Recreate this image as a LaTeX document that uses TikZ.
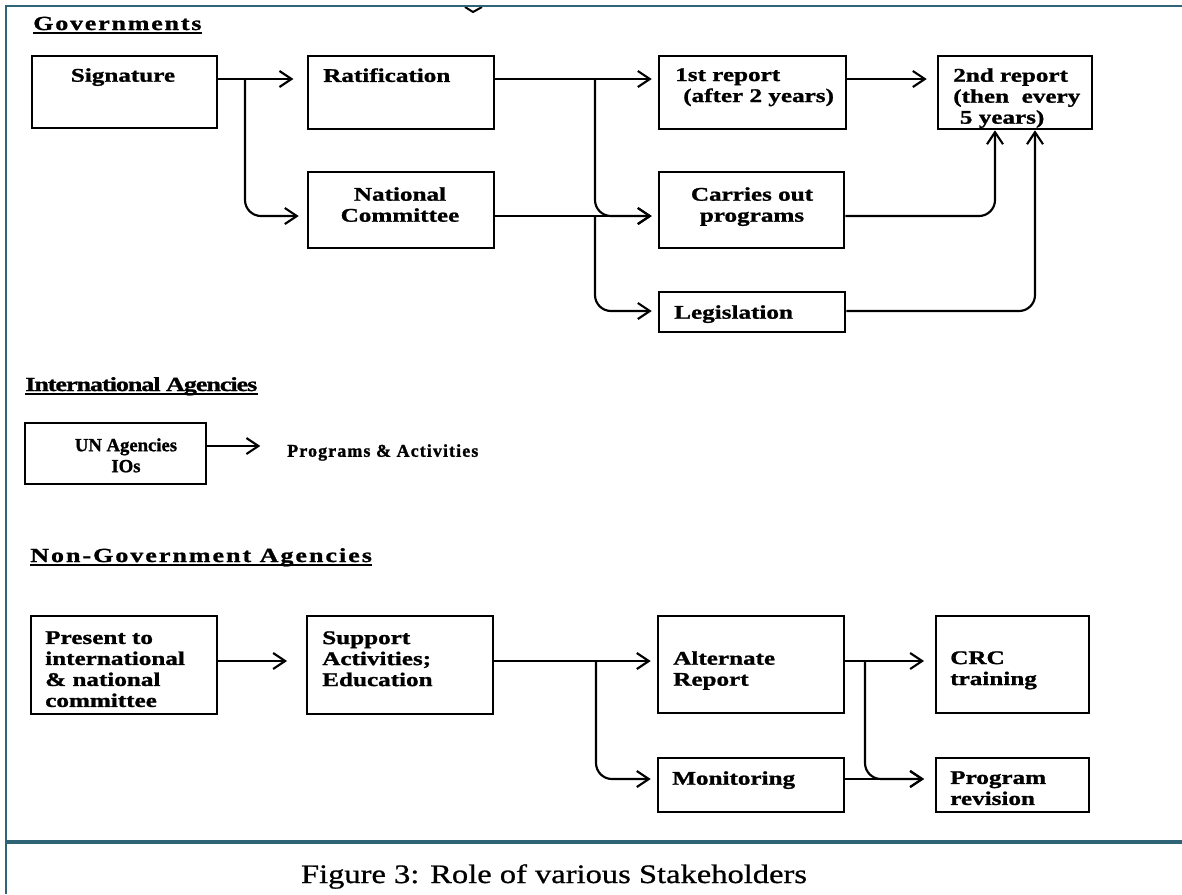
\documentclass[tikz,border=0pt]{standalone}
\usepackage{fontspec}
\setmainfont{Liberation Serif}
\newfontfamily\scanfont[FakeStretch=1.3,FakeBold=1.2]{Liberation Serif}
\newfontfamily\plainfont[FakeBold=1.2]{Liberation Serif}
\newfontfamily\capfont[FakeStretch=1.22,FakeBold=0.8]{Liberation Serif}
\usetikzlibrary{arrows.meta,positioning}
\definecolor{frameteal}{HTML}{2E6476}

\tikzset{
	box/.style={draw,line width=1.9pt,inner sep=0pt,minimum width=139.5pt},
	txt/.style={inner sep=0pt,align=left,font=\scanfont\bfseries\fontsize{14.5}{15.75}\selectfont},
	plaintxt/.style={inner sep=0pt,align=center,font=\plainfont\bfseries\fontsize{14}{15.75}\selectfont},
	head/.style={txt,anchor=base west},
	link/.style={->,line width=1.6pt,shorten >=4.5pt},
}

\begin{document}
\begin{tikzpicture}[x=0.75pt,y=-0.75pt,>={Straight Barb[length=9pt,width=12pt]}]
			\useasboundingbox (0,0) rectangle (1182,894);
			% frame
			\draw[line width=1.5pt] (465,7) -- (473,12) -- (482,7);
			\draw[frameteal,line width=1.6pt] (6,894) -- (6,6) -- (1182,6);
			\draw[frameteal,line width=2.6pt] (5,842) -- (1182,842);
			
			% levels of the connectors
			\coordinate (g1) at (0,79);
			\coordinate (g2) at (0,216);
			\coordinate (g3) at (0,311);
			\coordinate (i1) at (0,446);
			\coordinate (n1) at (0,661);
			\coordinate (n2) at (0,779);
			\coordinate (ja) at (245,0);
			\coordinate (jb) at (595,0);
			\coordinate (jc) at (995,0);
			\coordinate (jd) at (1035,0);
			\coordinate (je) at (596,0);
			\coordinate (jf) at (865,0);
			
			% Governments
			\node[head,font=\scanfont\bfseries\fontsize{15}{15.75}\selectfont\addfontfeature{LetterSpace=9}] (gov) at (33,30) {Governments};
			\node[box,minimum width=138.75pt,minimum height=54pt] (sig) at (124.5,92) {};
			\node[box,minimum height=54.75pt] (rat) at (401,92.5) {};
			\node[box,minimum height=57pt] (nat) at (401,210) {};
			\node[box,minimum width=140.25pt,minimum height=54.75pt] (rep1) at (752.5,92.5) {};
			\node[box,minimum width=115.5pt,minimum height=54.75pt] (rep2) at (1015,92.5) {};
			\node[box,minimum width=138.75pt,minimum height=57pt] (cp) at (751.5,210) {};
			\node[box,minimum height=30pt] (leg) at (752,312) {};
			\node[txt,anchor=north] (sigt) at (123,68) {Signature};
			\node[txt,anchor=north west] (ratt) at (323,68) {Ratification};
			\node[txt,anchor=north,align=center] (natt) at (400,187) {National\\Committee};
			\node[txt,anchor=north west] (rep1t) at (675,68) {1st report\\\hspace*{6pt}(after 2 years)};
			\node[txt,anchor=north west] (rep2t) at (953,68) {2nd report\\(then\ \ every\\\hspace*{5pt}5 years)};
			\node[txt,anchor=north,align=center] (cpt) at (752,187) {Carries out\\programs};
			\node[txt,anchor=north west] (legt) at (674,305) {Legislation};
			
			% International Agencies
			\node[head,font=\scanfont\bfseries\fontsize{15}{15.75}\selectfont\addfontfeature{LetterSpace=-5}] (ia) at (25,391) {International Agencies};
			\node[box,minimum width=135.75pt,minimum height=45.75pt] (un) at (115.5,453.5) {};
			\node[plaintxt,anchor=north] (unt) at (126,438) {UN Agencies\\IOs};
			\node[plaintxt,anchor=north west,font=\plainfont\bfseries\fontsize{13.5}{15.75}\selectfont\addfontfeature{LetterSpace=6}] (pa) at (287,444) {Programs \& Activities};
			
			% Non-Government Agencies
			\node[head,font=\scanfont\bfseries\fontsize{15}{15.75}\selectfont\addfontfeature{LetterSpace=10}] (nga) at (30,562) {Non-Government Agencies};
			\node[box,minimum height=73.5pt] (pre) at (124,665) {};
			\node[box,minimum height=73.5pt] (sup) at (400,665) {};
			\node[box,minimum height=72.75pt] (alt) at (751,664.5) {};
			\node[box,minimum width=114.75pt,minimum height=72.75pt] (crc) at (1012.5,664.5) {};
			\node[box,minimum height=40.5pt] (mon) at (751,785) {};
			\node[box,minimum width=114.75pt,minimum height=40.5pt] (prv) at (1012.5,785) {};
			\node[txt,anchor=north west] (pret) at (45,631) {Present to\\international\\\& national\\committee};
			\node[txt,anchor=north west] (supt) at (322,631) {Support\\Activities;\\Education};
			\node[txt,anchor=north west] (altt) at (673,651) {Alternate\\Report};
			\node[txt,anchor=north west] (mont) at (672,771) {Monitoring};
			\node[txt,anchor=north west] (crct) at (950,651) {CRC\\training};
			\node[txt,anchor=north west] (prvt) at (950,771) {Program\\revision};
			
			% underlines of the headings
			\foreach \h in {gov,ia,nga}
			\draw[line width=1.3pt] ([yshift=-2.2pt]\h.base west) -- ([yshift=-2.2pt]\h.base east);
			
			% connectors
			\draw[link,shorten >=10pt] (sig.east |- g1) -- (rat.west |- g1);
			\draw[link,shorten >=6pt,rounded corners=12pt] (ja |- g1) |- (nat.west |- g2);
			\draw[link] (rat.east |- g1) -- (rep1.west |- g1);
			\draw[link,rounded corners=12pt] (jb |- g1) |- (cp.west |- g2);
			\draw[link] (nat.east |- g2) -- (cp.west |- g2);
			\draw[link,rounded corners=12pt] (jb |- g2) |- (leg.west |- g3);
			\draw[link,shorten >=7.5pt] (rep1.east |- g1) -- (rep2.west |- g1);
			\draw[link,shorten >=0pt,rounded corners=12pt] (cp.east |- g2) -| (jc |- rep2.south);
			\draw[link,shorten >=0pt,rounded corners=12pt] (leg.east |- g3) -| (jd |- rep2.south);
			\draw[link,shorten >=20pt] (un.east |- i1) -- (pa.west |- i1);
			\draw[link,shorten >=14pt] (pre.east |- n1) -- (sup.west |- n1);
			\draw[link] (sup.east |- n1) -- (alt.west |- n1);
			\draw[link,rounded corners=12pt] (je |- n1) |- (mon.west |- n2);
			\draw[link,shorten >=8pt] (alt.east |- n1) -- (crc.west |- n1);
			\draw[link,shorten >=8pt,rounded corners=12pt] (jf |- n1) |- (prv.west |- n2);
			\draw[link,shorten >=8pt] (mon.east |- n2) -- (prv.west |- n2);
			
			% caption
			\node[anchor=base,inner sep=0pt,font=\capfont\fontsize{20}{24}\selectfont] (cap) at (554,883) {Figure 3: Role of various Stakeholders};
\end{tikzpicture}
\end{document}
